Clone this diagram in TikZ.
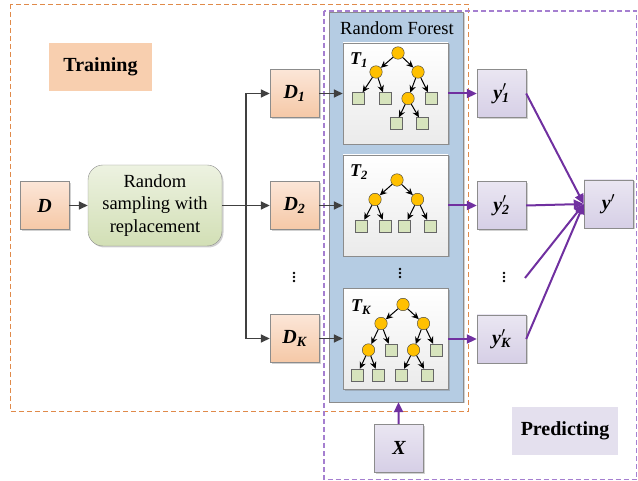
\documentclass[tikz,border=0pt]{standalone}
\usepackage{fontspec}
\setmainfont{Liberation Serif}
\usetikzlibrary{arrows.meta,shadows}
\definecolor{peachtop}{HTML}{FCE6D8}
\definecolor{peachbot}{HTML}{F5C8A6}
\definecolor{traincol}{HTML}{F8CFAF}
\definecolor{greentop}{HTML}{EDF2E1}
\definecolor{greenbot}{HTML}{D2DFB5}
\definecolor{forestcol}{HTML}{B5CCE3}
\definecolor{purptop}{HTML}{EAE6F2}
\definecolor{purpbot}{HTML}{D6CFE6}
\definecolor{predcol}{HTML}{E4E0EE}
\definecolor{arrowpurple}{HTML}{7030A0}
\definecolor{darkarrow}{HTML}{404040}
\definecolor{orangedash}{HTML}{E08A4A}
\definecolor{purpledash}{HTML}{A57FD0}
\definecolor{goldnode}{HTML}{FFC000}
\definecolor{leafcol}{HTML}{D7E4BD}
\definecolor{edgegray}{HTML}{8C8C8C}
\newcommand\subl[2]{\textbf{\textit{#1}}\textsubscript{\textbf{\textit{#2}}}}
\newcommand\ypr[1]{\textbf{\textit{y}}\rlap{$'$}\textsubscript{\textbf{\textit{#1}}}}
\begin{document}
\begin{tikzpicture}[x=1pt,y=-1pt,
  shad/.style={drop shadow={shadow xshift=1.5pt,shadow yshift=-1.5pt,opacity=0.3,fill=black!60}},
  peach/.style={draw=edgegray,top color=peachtop,bottom color=peachbot,minimum width=49pt,minimum height=48pt,inner sep=0pt,font=\fontsize{20}{24}\selectfont\bfseries\itshape,shad},
  purp/.style={draw=edgegray,top color=purptop,bottom color=purpbot,minimum width=49pt,minimum height=48pt,inner sep=0pt,font=\fontsize{20}{24}\selectfont\bfseries\itshape,shad},
  treebox/.style={draw=edgegray,top color=white,bottom color=black!8,minimum width=105pt,minimum height=101pt,inner sep=0pt,shad},
  tlabel/.style={font=\fontsize{18}{22}\selectfont\bfseries\itshape,inner sep=0pt},
  inode/.style={circle,draw=black!75,fill=goldnode,minimum size=12.5pt,inner sep=0pt},
  leaf/.style={rectangle,draw=black!60,fill=leafcol,minimum size=12pt,inner sep=0pt},
  tarr/.style={-{Stealth[length=7pt,width=6.5pt]},black,line width=1pt},
  darr/.style={-{Triangle[length=9pt,width=8pt]},darkarrow,line width=1.5pt},
  parr/.style={-{Triangle[length=10pt,width=9pt]},arrowpurple,line width=2pt},
  label/.style={inner sep=0pt,font=\fontsize{20}{24}\selectfont\bfseries},
  vdot/.style={circle,fill=black,inner sep=0pt,minimum size=2.6pt}
]
\useasboundingbox (0,0) rectangle (638,481);
% dashed regions
\draw[orangedash,dashed,line width=1pt,dash pattern=on 5pt off 3pt] (10.5,4.5) rectangle (468,412);
\draw[purpledash,dashed,line width=1.2pt,dash pattern=on 5pt off 3pt] (324,11) rectangle (636.5,479.5);
% labels
\node[label,fill=traincol,minimum width=103pt,minimum height=48pt] (train) at (100.5,67) {Training};
\node[label,fill=predcol,minimum width=106pt,minimum height=48pt] (pred) at (565,431) {Predicting};
% forest
\node[draw=edgegray,fill=forestcol,minimum width=134pt,minimum height=390pt,inner sep=0pt,shad] (forest) at (396,207) {};
\node[inner sep=0pt,font=\fontsize{18.5}{22}\selectfont] (rftitle) at (397,28) {Random Forest};
% left nodes
\node[peach] (d) at (44.5,205.5) {D};
\node[draw=edgegray,rounded corners=15pt,top color=greentop,bottom color=greenbot,minimum width=134pt,minimum height=81pt,inner sep=0pt,align=center,font=\fontsize{18.5}{22.5}\selectfont,shad] (rs) at (155,205.5) {Random\\sampling with\\replacement};
\node[peach] (d1) at (294.5,93.5) {\subl{D}{1}};
\node[peach] (d2) at (294.5,205.5) {\subl{D}{2}};
\node[peach] (dk) at (294.5,338.5) {\subl{D}{K}};
\foreach \dy [count=\i] in {-4,0,4} {
  \node[vdot] (dd\i) at (294,277+\dy) {};
  \node[vdot] (td\i) at (400,273+\dy) {};
  \node[vdot] (yd\i) at (504,277+\dy) {};
}
% tree boxes
\node[treebox] (t1) at (395.5,93.5) {};
\node[treebox] (t2) at (395.5,205.5) {};
\node[treebox] (tk) at (395.5,339) {};
\node[tlabel] (t1l) at (359,60) {\subl{T}{1}};
\node[tlabel] (t2l) at (359,172) {\subl{T}{2}};
\node[tlabel] (tkl) at (361,307) {\subl{T}{K}};
% tree 1
\node[inode] (a0) at (398,53) {};
\node[inode] (a1) at (376,72) {};
\node[inode] (a2) at (418,72) {};
\node[leaf] (a3) at (358.5,98.5) {};
\node[leaf] (a4) at (385,98.5) {};
\node[inode] (a5) at (408,98.5) {};
\node[leaf] (a6) at (431,98.5) {};
\node[leaf] (a7) at (396,123.5) {};
\node[leaf] (a8) at (422.5,123.5) {};
\foreach \p/\c in {a0/a1,a0/a2,a1/a3,a1/a4,a2/a5,a2/a6,a5/a7,a5/a8} \draw[tarr] (\p) -- (\c);
% tree 2
\node[inode] (b0) at (397,180) {};
\node[inode] (b1) at (375,199.5) {};
\node[inode] (b2) at (417.5,199.5) {};
\node[leaf] (b3) at (361,226) {};
\node[leaf] (b4) at (385,226) {};
\node[leaf] (b5) at (404.5,226) {};
\node[leaf] (b6) at (430,226) {};
\foreach \p/\c in {b0/b1,b0/b2,b1/b3,b1/b4,b2/b5,b2/b6} \draw[tarr] (\p) -- (\c);
% tree K
\node[inode] (c0) at (403,304.5) {};
\node[inode] (c1) at (381,323.5) {};
\node[inode] (c2) at (423.5,323.5) {};
\node[inode] (c3) at (368.5,350) {};
\node[leaf] (c4) at (391,350) {};
\node[inode] (c5) at (413.5,350) {};
\node[leaf] (c6) at (436,350) {};
\node[leaf] (c7) at (357,375) {};
\node[leaf] (c8) at (378,375) {};
\node[leaf] (c9) at (401,375) {};
\node[leaf] (c10) at (427.5,375) {};
\foreach \p/\c in {c0/c1,c0/c2,c1/c3,c1/c4,c2/c5,c2/c6,c3/c7,c3/c8,c5/c9,c5/c10} \draw[tarr] (\p) -- (\c);
% right nodes
\node[purp] (y1) at (501.5,93.5) {\ypr{1}};
\node[purp] (y2) at (501.5,205.5) {\ypr{2}};
\node[purp] (yk) at (501.5,339) {\ypr{K}};
\node[purp] (y) at (608.5,204) {\textbf{\textit{y}}$'$};
\node[purp] (x) at (399,448) {X};
\coordinate (free) at (525,278);
\coordinate (branch) at (246,205.5);
% dark arrows
\draw[darr] (d) -- (rs);
\draw[darr] (rs) -- (d2);
\draw[darr] (branch) |- (d1);
\draw[darr] (branch) |- (dk);
\draw[darr] (d1) -- (t1);
\draw[darr] (d2) -- (t2);
\draw[darr] (dk.east) -- (tk.west |- dk.east);
% purple arrows
\draw[parr] (t1) -- (y1);
\draw[parr] (t2) -- (y2);
\draw[parr] (tk) -- (yk);
\draw[parr] (y1.east) -- (y.west);
\draw[parr] (y2.east) -- (y.west);
\draw[parr] (yk.east) -- (y.west);
\draw[parr] (free) -- (y.west);
\draw[parr] (x) -- (forest);
\end{tikzpicture}
\end{document}
